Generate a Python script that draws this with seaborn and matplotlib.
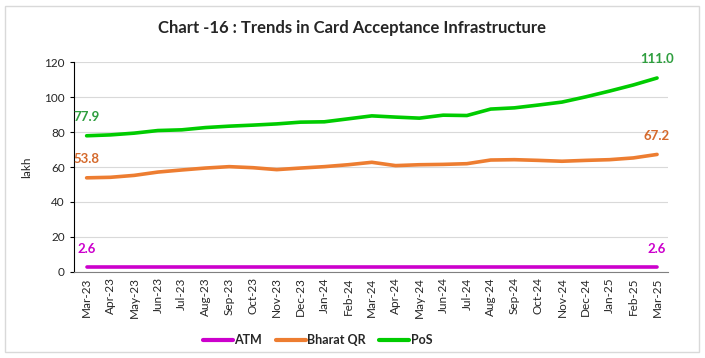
import pandas as pd
import matplotlib
matplotlib.use("Agg")
import matplotlib.pyplot as plt
import seaborn as sns
from matplotlib.patches import Rectangle

months = ["Mar-23", "Apr-23", "May-23", "Jun-23", "Jul-23", "Aug-23", "Sep-23",
          "Oct-23", "Nov-23", "Dec-23", "Jan-24", "Feb-24", "Mar-24", "Apr-24",
          "May-24", "Jun-24", "Jul-24", "Aug-24", "Sep-24", "Oct-24", "Nov-24",
          "Dec-24", "Jan-25", "Feb-25", "Mar-25"]

atm = [2.6] * 25
bharat_qr = [53.8, 54.1, 55.2, 57.1, 58.3, 59.4, 60.2, 59.6, 58.5, 59.4, 60.2, 61.3,
             62.7, 60.8, 61.3, 61.5, 61.9, 64.0, 64.2, 63.8, 63.3, 63.8, 64.2, 65.2, 67.2]
pos = [77.9, 78.4, 79.4, 80.9, 81.3, 82.6, 83.4, 84.0, 84.7, 85.7, 85.9, 87.6,
       89.3, 88.6, 88.0, 89.7, 89.5, 93.2, 93.9, 95.5, 97.2, 100.2, 103.5, 107.0, 111.0]

series = {"ATM": atm, "Bharat QR": bharat_qr, "PoS": pos}
colors = {"ATM": "#cc00cc", "Bharat QR": "#ed7d31", "PoS": "#00cc00"}
label_colors = {"ATM": "#cc00cc", "Bharat QR": "#d5692b", "PoS": "#2e9e3e"}

rows = []
for name, vals in series.items():
    for i, v in enumerate(vals):
        rows.append({"idx": i, "value": v, "series": name})
df = pd.DataFrame(rows)

sns.set_style("white")
plt.rcParams['font.family'] = ['Lato', 'DejaVu Sans']

fig = plt.figure(figsize=(7.05, 3.58), dpi=100)
fig.patches.append(Rectangle((5 / 705, 6 / 358), 694 / 705, 346 / 358, transform=fig.transFigure,
                             fill=False, edgecolor="#d9d9d9", linewidth=1))
ax = fig.add_axes([0.105, 0.241, 0.8425, 0.585])

sns.lineplot(data=df, x="idx", y="value", hue="series", palette=colors, linewidth=2.6,
             ax=ax, legend=True)

ax.set_xlim(-0.53, 24.46)
ax.set_ylim(0, 120)
ax.set_yticks(range(0, 121, 20))
ax.set_xticks(range(len(months)))
ax.set_xticklabels(months, rotation=90, fontsize=8.5)
ax.tick_params(axis="y", labelsize=8.5, length=3, direction="out", left=True, color="black")
ax.tick_params(axis="x", length=0, pad=4)
ax.yaxis.grid(True, color="#d9d9d9", linewidth=0.8)
ax.set_xlabel("")
ax.set_ylabel("lakh", fontsize=8.5, labelpad=9)
for s in ["top", "right"]:
    ax.spines[s].set_visible(False)
ax.spines["left"].set_color("black")
ax.spines["bottom"].set_color("#808080")

# end-point data labels
offsets = {"ATM": 10.5, "Bharat QR": 10.8, "PoS": 11.0}
for name, vals in series.items():
    for i in (0, len(vals) - 1):
        ax.text(i, vals[i] + offsets[name], f"{vals[i]:.1f}", ha="center", va="center",
                fontsize=9.5, fontweight="bold", color=label_colors[name], clip_on=False)

handles, labels = ax.get_legend_handles_labels()
ax.legend(handles, labels, loc="center", bbox_to_anchor=(0.41, -0.327), ncol=3, frameon=False,
          prop={"size": 9, "weight": "bold"}, handlelength=2.4, handletextpad=0.1,
          columnspacing=1.1)
for line in ax.get_legend().get_lines():
    line.set_linewidth(3)

fig.text(0.5, 0.922, "Chart -16 : Trends in Card Acceptance Infrastructure", ha="center",
         va="center", fontsize=12, fontweight="bold")

fig.savefig("out.png", dpi=100)
